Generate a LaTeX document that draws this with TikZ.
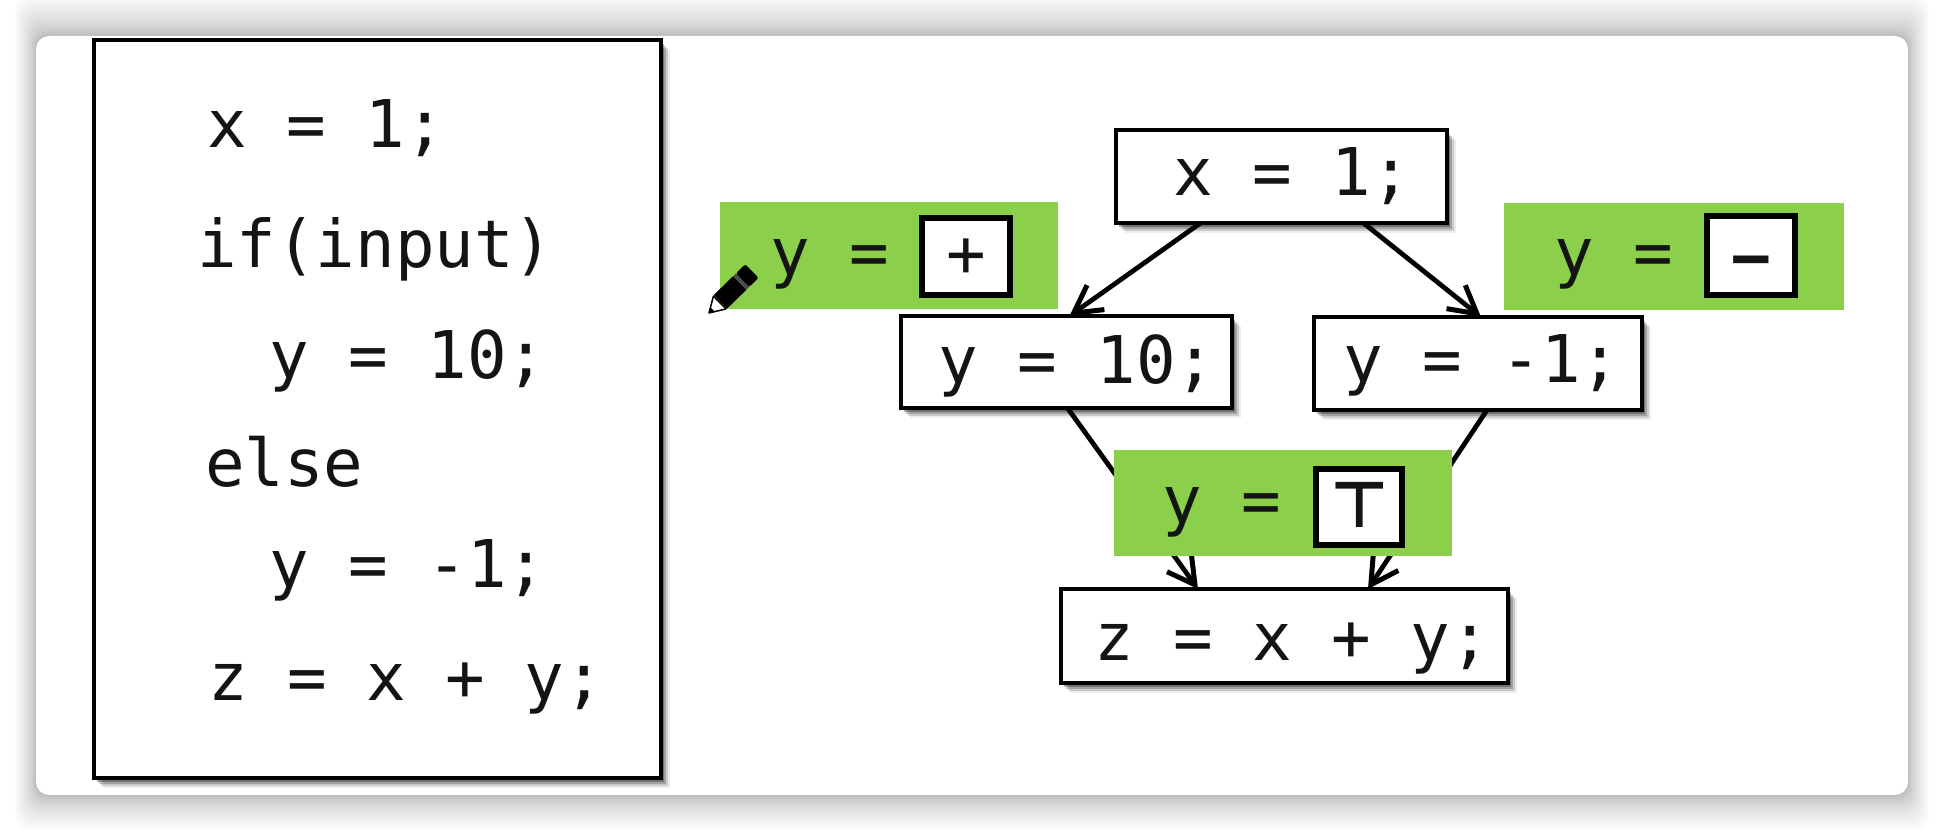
\documentclass[tikz,border=0pt]{standalone}
\usepackage{fontspec}
\usetikzlibrary{arrows.meta}
\newfontfamily\codefont{DejaVu Sans Mono}
\newfontfamily\codebold{DejaVu Sans Mono Bold}
\newfontfamily\symfont{DejaVu Sans Bold}
\definecolor{leaf}{HTML}{8CCF4A}
\definecolor{ink}{HTML}{141414}
% #1 style, #2 name, #3 left, #4 top, #5 right, #6 bottom, #7 text left, #8 baseline, #9 text
\newcommand\cellnode[9]{%
  \pgfmathsetmacro\cellw{#5-(#3)}%
  \pgfmathsetmacro\cellh{#8-(#4)}%
  \pgfmathsetmacro\celld{#6-(#8)}%
  \pgfmathsetmacro\cello{#7-(#3)}%
  \node[#1,anchor=north west,inner sep=0pt,outer sep=0pt,align=left,
        text width=\cellw pt,text height=\cellh pt,text depth=\celld pt] (#2) at (#3,#4)
        {\spaceskip=0pt\relax\hspace*{\cello pt}#9};}
\tikzset{
  code/.style={font=\codefont\fontsize{65.8}{72}\selectfont,text=ink},
  softshadow/.style={
    preaction={draw=none,fill=black,fill opacity=.07,transform canvas={shift={(9pt,-10pt)}}},
    preaction={draw=none,fill=black,fill opacity=.14,transform canvas={shift={(7pt,-8pt)}}},
    preaction={draw=none,fill=black,fill opacity=.20,transform canvas={shift={(5pt,-6pt)}}},
    preaction={draw=none,fill=black,fill opacity=.30,transform canvas={shift={(3pt,-4pt)}}}},
  stmt/.style={code,draw=black,line width=4.2pt,fill=white,softshadow},
  green/.style={code,fill=leaf},
  hole/.style={code,draw=black,line width=6pt,fill=white},
  line/.style={code,anchor=base west,inner sep=0pt,outer sep=0pt},
  edge/.style={draw=black,line width=4.8pt},
  arrowedge/.style={edge,-{Straight Barb[length=27pt,width=30pt,line width=5pt]}},
}
\begin{document}
\begin{tikzpicture}[x=1pt,y=-1pt]
\useasboundingbox (0,0) rectangle (1944,832);
\fill[white] (0,0) rectangle (1944,832);
% window shadow and panel
\foreach \i in {1,...,18}{
  \pgfmathsetmacro\s{16*(\i/18)^1.7}
  \fill[black,fill opacity=.014,rounded corners=14pt]
    ({36-\s*1.3},{36-\s*2.6}) rectangle ({1908+\s*1.3},{795+\s*2.2});
}
\fill[white,rounded corners=13pt] (36,36) rectangle (1908,795);
% source listing
\node[draw=black,line width=4.2pt,fill=white,softshadow,anchor=north west,inner sep=0pt,outer sep=0pt,
      minimum width=567pt,minimum height=738pt] (src) at (94,40) {};
\node[line] (l1) at (207,148) {x = 1;};
\node[line] (l2) at (197,267) {if(input)};
\node[line] (l3) at (269,378) {y = 10;};
\node[line] (l4) at (205,486) {else};
\node[line] (l5) at (269,587) {y = -1;};
\node[line] (l6) at (208,700) {z = x + y;};
% statement nodes
\cellnode{stmt}{sx}{1116}{130}{1447}{223}{1173}{195}{x = 1;}
\cellnode{stmt}{sa}{901}{316}{1232}{408}{938}{383}{y = 10;}
\cellnode{stmt}{sb}{1314}{317}{1642}{410}{1343}{382}{y = -1;}
\cellnode{stmt}{sz}{1061}{589}{1508}{683}{1094}{660}{z = x + y;}
% connectors
\draw[arrowedge] ([xshift=-81pt]sx.south) -- ([xshift=3pt]sa.north);
\draw[arrowedge] ([xshift=82pt]sx.south) -- ([xshift=3pt]sb.north);
\draw[arrowedge] ([xshift=1pt]sa.south) -- ([xshift=-86.5pt]sz.north);
\draw[arrowedge] ([xshift=9pt]sb.south) -- ([xshift=83.5pt]sz.north);
% lattice facts
\cellnode{green}{gp}{720}{202}{1058}{309}{770}{275}{y =}
\cellnode{hole}{hp}{922}{218}{1010}{295}{946}{276}{+}
\cellnode{green}{gm}{1504}{203}{1844}{310}{1554}{275}{y =}
\cellnode{hole}{hm}{1707}{216}{1795}{295}{1731}{280}{\codebold −}
\cellnode{green}{gt}{1114}{450}{1452}{556}{1162}{523}{y =}
\cellnode{hole}{ht}{1316}{469}{1402}{545}{1330}{527}{\symfont\fontsize{64}{70}\selectfont ⊤}
% pencil cursor
\begin{scope}[cm={0.715,0.699,0.699,-0.715,(709,313)},x=1pt,y=1pt]
  \filldraw[fill=white,draw=black,line width=1.5pt,line join=round] (0,0) -- (15,-9) -- (15,9) -- cycle;
  \fill[black] (0,0) -- (5,-3) -- (5,3) -- cycle;
  \fill[black] (16,-9.5) rectangle (43,9.5);
  \fill[black!70] (43,-9.5) rectangle (47,9.5);
  \fill[black,rounded corners=2pt] (47,-9.5) rectangle (60,9.5);
\end{scope}
\end{tikzpicture}
\end{document}
